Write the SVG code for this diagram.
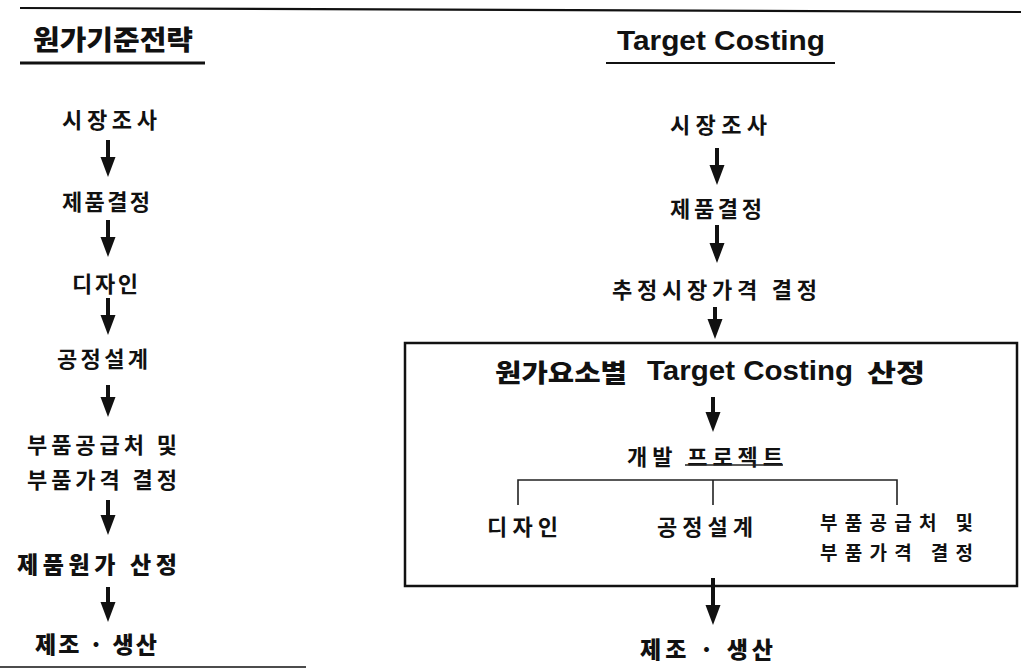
<svg xmlns="http://www.w3.org/2000/svg" width="1021" height="668" viewBox="0 0 1021 668">
<style>
text{font-family:"Noto Sans CJK KR","Noto Sans CJK SC",sans-serif;fill:#111;dominant-baseline:central;}
.t{font-size:22px;font-weight:700;}
.s{font-size:19px;font-weight:700;}
.b{font-size:23px;font-weight:900;}
.title{font-size:27px;font-weight:900;}
.en{font-family:"Liberation Sans","Noto Sans CJK KR",sans-serif;font-size:28px;font-weight:700;}
.mix{font-size:25px;font-weight:900;}
.mixen{font-family:"Liberation Sans",sans-serif;font-size:27px;font-weight:700;}
.rule{stroke:#111;fill:none;}
.arrow{fill:#111;stroke:none;}
.thin{stroke:#222;stroke-width:1.6;fill:none;}
</style>
<rect width="1021" height="668" fill="#fff"/>
<g id="frame">
<path class="rule" d="M20,8 L1021,12" stroke-width="2.2"/>
<path class="rule" d="M20,63 H205" stroke-width="3"/>
<path class="rule" d="M606,63 H835" stroke-width="2.2"/>
<path class="rule" d="M0,667 H306" stroke-width="1.6" stroke="#777"/>
</g>
<g id="left-title"><text class="title" x="33" y="38" textLength="160" lengthAdjust="spacingAndGlyphs">원가기준전략</text></g>
<g id="right-title"><text class="en" x="617" y="40" textLength="208" lengthAdjust="spacingAndGlyphs">Target Costing</text></g>

<g id="l1"><text class="t" x="62" y="118" textLength="95">시장조사</text></g>
<g id="l2"><text class="t" x="62" y="200" textLength="88">제품결정</text></g>
<g id="l3"><text class="t" x="72" y="282" textLength="66">디자인</text></g>
<g id="l4"><text class="t" x="57" y="357" textLength="91">공정설계</text></g>
<g id="l5"><text class="t" x="27" y="443" textLength="150">부품공급처 및</text><text class="t" x="27" y="478" textLength="150">부품가격 결정</text></g>
<g id="l6"><text class="b" x="17" y="563" textLength="160">제품원가 산정</text></g>
<g id="l7"><text class="b" x="35" y="643" textLength="122">제조 · 생산</text></g>

<g id="r1"><text class="t" x="670" y="123" textLength="97">시장조사</text></g>
<g id="r2"><text class="t" x="670" y="207" textLength="92">제품결정</text></g>
<g id="r3"><text class="t" x="612" y="288" textLength="205">추정시장가격 결정</text></g>
<g id="r-box">
<rect class="rule" x="405" y="343" width="612" height="243" stroke-width="2.5"/>
<text class="mix" x="495" y="371" textLength="132" lengthAdjust="spacingAndGlyphs">원가요소별</text>
<text class="mixen" x="647" y="371" textLength="206" lengthAdjust="spacingAndGlyphs">Target Costing</text>
<text class="mix" x="867" y="371" textLength="58" lengthAdjust="spacingAndGlyphs">산정</text>
</g>
<g id="r4"><text class="t" x="627" y="455" textLength="156">개발 프로젝트</text><path class="thin" d="M685,465 H783"/></g>
<g id="r5"><text class="t" x="487" y="525" textLength="71">디자인</text></g>
<g id="r6"><text class="t" x="657" y="525" textLength="96">공정설계</text></g>
<g id="r7"><text class="s" x="820" y="521" textLength="153">부품공급처 및</text><text class="s" x="820" y="551" textLength="153">부품가격 결정</text></g>
<g id="r8"><text class="b" x="640" y="648" textLength="133">제조 · 생산</text></g>

<g id="connectors">
<path class="arrow" d="M106,140 h4 v17 h5.5 l-7.5,20 l-7.5,-20 h5.5 z"/>
<path class="arrow" d="M106,220 h4 v17 h5.5 l-7.5,20 l-7.5,-20 h5.5 z"/>
<path class="arrow" d="M106,298 h4 v17 h5.5 l-7.5,20 l-7.5,-20 h5.5 z"/>
<path class="arrow" d="M106,385 h4 v12 h5.5 l-7.5,20 l-7.5,-20 h5.5 z"/>
<path class="arrow" d="M106,500 h4 v15 h5.5 l-7.5,20 l-7.5,-20 h5.5 z"/>
<path class="arrow" d="M106,587 h4 v15 h5.5 l-7.5,20 l-7.5,-20 h5.5 z"/>
<path class="arrow" d="M715,148 h4 v17 h5.5 l-7.5,20 l-7.5,-20 h5.5 z"/>
<path class="arrow" d="M715,225 h4 v18 h5.5 l-7.5,20 l-7.5,-20 h5.5 z"/>
<path class="arrow" d="M713,307 h4 v12 h5.5 l-7.5,20 l-7.5,-20 h5.5 z"/>
<path class="arrow" d="M711,397 h4 v15 h5.5 l-7.5,20 l-7.5,-20 h5.5 z"/>
<path class="arrow" d="M711,578 h4 v27 h5.5 l-7.5,20 l-7.5,-20 h5.5 z"/>
<path class="thin" d="M518,505 V480 H897 V505 M713,480 V505"/>
</g>
</svg>
